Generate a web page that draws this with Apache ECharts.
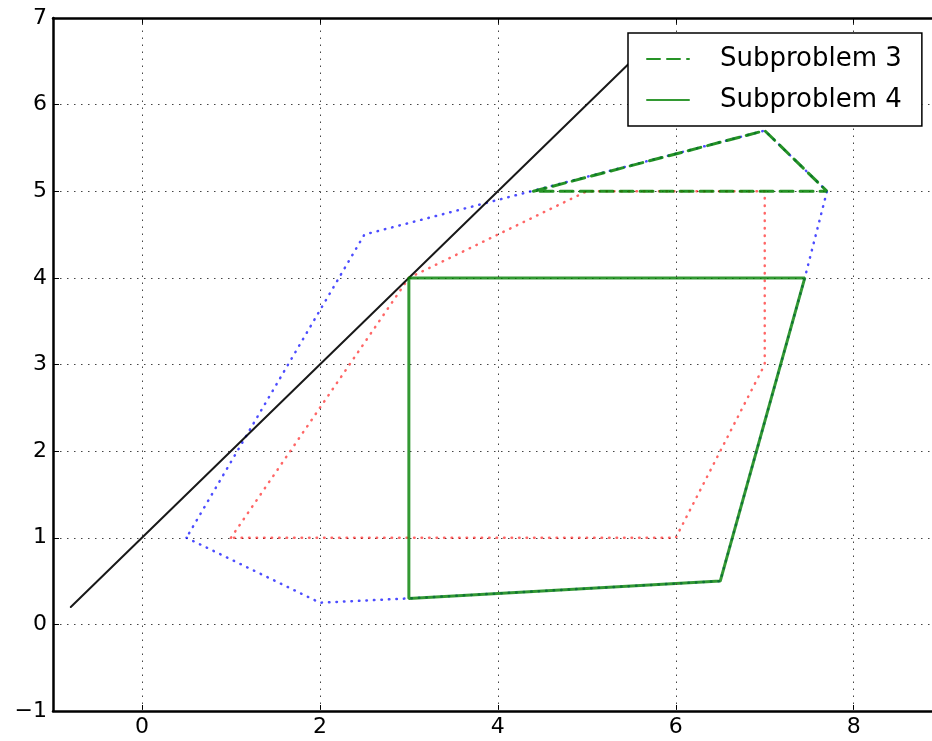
<!DOCTYPE html>
<html>
<head>
<meta charset="utf-8">
<title>Subproblems</title>
<script src="https://cdn.jsdelivr.net/npm/echarts@6/dist/echarts.min.js"></script>
</head>
<body style="margin:0">
<div id="container" style="width:932px;height:741px"></div>
<script>
// tick positions on the x axis
const xTicks = [0, 2, 4, 6, 8];
// the black boundary line
const boundaryLine = [[-0.8, 0.2], [5.7, 6.7]];
// blue dotted outer region
const outerRegion = [[0.5, 1], [2, 0.25], [3, 0.3], [6.5, 0.5], [7.45, 4], [7.7, 5], [7, 5.7], [2.5, 4.5], [0.5, 1]];
// red dotted inner region
const innerRegion = [[1, 1], [3, 4], [5, 5], [7, 5], [7, 3], [6, 1], [1, 1]];
// green subproblems
const sub3 = [[4.4, 5], [7, 5.7], [7.7, 5], [4.4, 5]];
const sub4 = [[3, 4], [7.45, 4], [6.5, 0.5], [3, 0.3], [3, 4]];

const font = 'DejaVu Sans';
const chart = echarts.init(document.getElementById('container'));

function poly(name, data, color, width, type, opacity, z) {
  return {
    name: name,
    type: 'line',
    data: data,
    symbol: 'none',
    z: z,
    lineStyle: { color: color, width: width, type: type, opacity: opacity, cap: 'round' },
    itemStyle: { color: color }
  };
}

const gridLines = poly('grid', [], '#000', 1, 'solid', 1, 1);
gridLines.markLine = {
  silent: true,
  symbol: 'none',
  label: { show: false },
  lineStyle: { color: '#444', width: 1, type: [1.5, 5.5], cap: 'butt' },
  data: xTicks.map(v => ({ xAxis: v }))
};

const option = {
  animation: false,
  backgroundColor: '#fff',
  grid: { left: 53, top: 18, right: 0, bottom: 30 },
  xAxis: [
    {
      type: 'value', min: -1, max: 8.88, position: 'bottom',
      axisLine: { onZero: false, lineStyle: { color: '#000', width: 2.5 } },
      axisTick: { inside: true, length: 6, customValues: xTicks, lineStyle: { color: '#000' } },
      axisLabel: { customValues: xTicks, fontFamily: font, fontSize: 22, color: '#000', margin: 5 },
      splitLine: { show: false }
    },
    {
      type: 'value', min: -1, max: 8.88, position: 'top',
      axisLine: { onZero: false, lineStyle: { color: '#000', width: 2.5 } },
      axisTick: { inside: true, length: 6, customValues: xTicks, lineStyle: { color: '#000' } },
      axisLabel: { show: false },
      splitLine: { show: false }
    }
  ],
  yAxis: {
    type: 'value', min: -1, max: 7, interval: 1,
    axisLine: { show: true, onZero: false, lineStyle: { color: '#000', width: 2.5 } },
    axisTick: { show: true, inside: true, length: 6, lineStyle: { color: '#000' } },
    axisLabel: {
      fontFamily: font, fontSize: 22, color: '#000', margin: 6,
      formatter: v => String(v).replace('-', '\u2212')
    },
    splitLine: { show: true, lineStyle: { color: '#444', width: 1, type: [1.5, 5.5] } }
  },
  legend: {
    data: ['Subproblem 3', 'Subproblem 4'],
    orient: 'vertical',
    left: 628, top: 33,
    z: 20,
    padding: [13, 20, 13, 18],
    itemWidth: 42, itemHeight: 14, itemGap: 15,
    backgroundColor: '#fff',
    borderColor: '#000', borderWidth: 1.5, borderRadius: 0,
    itemStyle: { color: 'transparent', borderWidth: 0 },
    textStyle: { fontFamily: font, fontSize: 26, color: '#000', padding: [0, 0, 0, 26] }
  },
  series: [
    gridLines,
    poly('Outer', outerRegion, '#0000ff', 2.5, [0.5, 7], 0.7, 2),
    poly('Inner', innerRegion, '#ff0000', 2.5, [0.5, 7], 0.6, 2),
    poly('Boundary', boundaryLine, '#000', 2, 'solid', 0.9, 2),
    poly('Subproblem 3', sub3, '#008000', 3, [13, 7], 0.85, 3),
    poly('Subproblem 4', sub4, '#008000', 3, 'solid', 0.8, 3)
  ]
};
chart.setOption(option);
</script>
</body>
</html>
